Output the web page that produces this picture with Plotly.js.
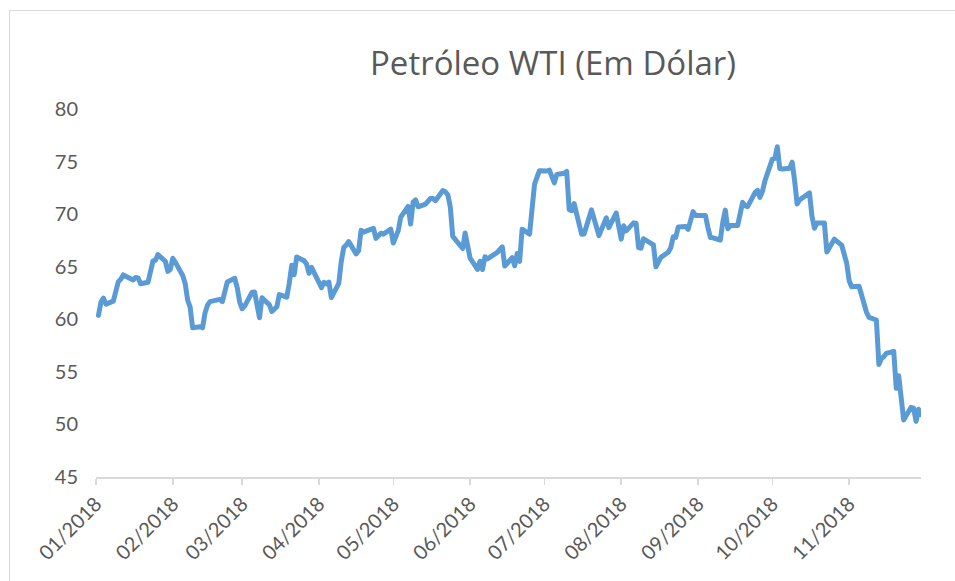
<!DOCTYPE html>
<html>
<head>
<meta charset="utf-8">
<script src="https://cdn.plot.ly/plotly-3.0.1.min.js"></script>
<style>
  html, body { margin: 0; padding: 0; background: #ffffff; overflow: hidden; }
  #chart { width: 955px; height: 581px; }
  #frame { position: absolute; left: 9px; top: 10px; width: 1000px; height: 1000px;
           border: 1.5px solid #d9d9d9; pointer-events: none; }
  .js-line { stroke-linejoin: round; stroke-linecap: round; }
</style>
</head>
<body>
<div id="chart"></div>
<div id="frame"></div>
<script>
const chartTitle = "Petróleo WTI (Em Dólar)";

const dates = [
  "2018-01-02","2018-01-03","2018-01-04","2018-01-05","2018-01-08","2018-01-09","2018-01-10","2018-01-11","2018-01-12",
  "2018-01-16","2018-01-17","2018-01-18","2018-01-19","2018-01-22","2018-01-23","2018-01-24","2018-01-25","2018-01-26",
  "2018-01-29","2018-01-30","2018-01-31",
  "2018-02-01","2018-02-02","2018-02-05","2018-02-06","2018-02-07","2018-02-08","2018-02-09","2018-02-12","2018-02-13",
  "2018-02-14","2018-02-15","2018-02-16","2018-02-20","2018-02-21","2018-02-22","2018-02-23","2018-02-26","2018-02-27","2018-02-28",
  "2018-03-01","2018-03-02","2018-03-05","2018-03-06","2018-03-07","2018-03-08","2018-03-09","2018-03-12","2018-03-13",
  "2018-03-14","2018-03-15","2018-03-16","2018-03-19","2018-03-20","2018-03-21","2018-03-22","2018-03-23","2018-03-26",
  "2018-03-27","2018-03-28","2018-03-29",
  "2018-04-02","2018-04-03","2018-04-04","2018-04-05","2018-04-06","2018-04-09","2018-04-10","2018-04-11","2018-04-12",
  "2018-04-13","2018-04-16","2018-04-17","2018-04-18","2018-04-19","2018-04-20","2018-04-23","2018-04-24","2018-04-25",
  "2018-04-26","2018-04-27","2018-04-30",
  "2018-05-01","2018-05-02","2018-05-03","2018-05-04","2018-05-07","2018-05-08","2018-05-09","2018-05-10","2018-05-11",
  "2018-05-14","2018-05-15","2018-05-16","2018-05-17","2018-05-18","2018-05-21","2018-05-22","2018-05-23","2018-05-24",
  "2018-05-25","2018-05-29","2018-05-30","2018-05-31",
  "2018-06-01","2018-06-04","2018-06-05","2018-06-06","2018-06-07","2018-06-08","2018-06-11","2018-06-12","2018-06-13",
  "2018-06-14","2018-06-15","2018-06-18","2018-06-19","2018-06-20","2018-06-21","2018-06-22","2018-06-25","2018-06-26",
  "2018-06-27","2018-06-28","2018-06-29",
  "2018-07-02","2018-07-03","2018-07-05","2018-07-06","2018-07-09","2018-07-10","2018-07-11","2018-07-12","2018-07-13",
  "2018-07-16","2018-07-17","2018-07-18","2018-07-19","2018-07-20","2018-07-23","2018-07-24","2018-07-25","2018-07-26",
  "2018-07-27","2018-07-30","2018-07-31",
  "2018-08-01","2018-08-02","2018-08-03","2018-08-06","2018-08-07","2018-08-08","2018-08-09","2018-08-10","2018-08-13",
  "2018-08-14","2018-08-15","2018-08-16","2018-08-17","2018-08-20","2018-08-21","2018-08-22","2018-08-23","2018-08-24",
  "2018-08-27","2018-08-28","2018-08-29","2018-08-30","2018-08-31",
  "2018-09-04","2018-09-05","2018-09-06","2018-09-07","2018-09-10","2018-09-11","2018-09-12","2018-09-13","2018-09-14",
  "2018-09-17","2018-09-18","2018-09-19","2018-09-20","2018-09-21","2018-09-24","2018-09-25","2018-09-26","2018-09-27","2018-09-28",
  "2018-10-01","2018-10-02","2018-10-03","2018-10-04","2018-10-05","2018-10-08","2018-10-09","2018-10-10","2018-10-11",
  "2018-10-12","2018-10-15","2018-10-16","2018-10-17","2018-10-18","2018-10-19","2018-10-22","2018-10-23","2018-10-24",
  "2018-10-25","2018-10-26","2018-10-29","2018-10-30","2018-10-31",
  "2018-11-01","2018-11-02","2018-11-05","2018-11-06","2018-11-07","2018-11-08","2018-11-09","2018-11-12","2018-11-13",
  "2018-11-14","2018-11-15","2018-11-16","2018-11-19","2018-11-20","2018-11-21","2018-11-23","2018-11-26","2018-11-27",
  "2018-11-28","2018-11-29","2018-11-30"
];

const prices = [
  60.37,61.63,62.01,61.44,61.73,62.92,63.57,63.80,64.22,
  63.73,63.97,63.94,63.38,63.52,64.49,65.56,65.61,66.15,
  65.50,64.56,64.73,
  65.80,65.44,64.16,63.40,61.81,61.15,59.20,59.29,59.19,
  60.60,61.34,61.68,61.90,61.68,62.76,63.55,63.90,63.01,61.64,
  61.00,61.25,62.57,62.59,61.16,60.15,62.05,61.37,60.74,
  61.01,61.20,62.35,62.10,63.41,65.13,64.24,65.93,65.56,
  65.25,64.38,64.94,
  63.01,63.51,63.37,63.54,62.06,63.42,65.51,66.82,67.07,
  67.39,66.22,66.52,68.47,68.29,68.38,68.64,67.70,68.05,
  68.19,68.10,68.57,
  67.25,67.93,68.43,69.72,70.73,69.06,71.14,71.36,70.70,
  70.96,71.31,71.49,71.49,71.28,72.24,72.13,71.84,70.71,
  67.88,66.73,68.21,67.04,
  65.81,64.75,65.52,64.73,65.95,65.74,66.11,66.36,66.64,
  66.89,65.06,65.87,65.09,66.25,65.51,68.57,68.10,70.55,
  72.83,73.51,74.13,
  74.10,74.19,72.97,73.78,73.88,74.06,70.43,70.33,71.00,
  68.09,68.11,68.83,69.51,70.41,67.96,68.48,69.26,69.65,
  68.72,70.11,68.81,
  67.62,68.89,68.41,69.17,69.14,66.81,66.76,67.66,67.19,
  67.07,65.00,65.43,65.89,66.38,66.82,67.84,67.79,68.78,
  68.83,68.55,69.56,70.24,69.87,
  69.87,68.72,67.77,67.75,67.54,69.25,70.38,68.61,68.91,
  68.93,69.85,71.12,70.80,70.71,72.05,72.27,71.59,72.17,73.16,
  75.23,75.30,76.41,74.34,74.29,74.36,74.94,73.16,70.96,
  71.35,71.82,72.02,69.77,68.66,69.16,69.16,66.40,66.79,
  67.38,67.62,67.04,66.14,65.33,
  63.67,63.10,63.14,62.21,61.67,60.67,60.19,59.93,55.69,
  56.25,56.46,56.76,56.95,53.43,54.63,50.42,51.63,51.56,
  50.29,51.45,50.93
];

const yTicks = [45, 50, 55, 60, 65, 70, 75, 80];

const fontFam = "Lato, 'Open Sans', sans-serif";
const titleFam = "'Open Sans', Lato, sans-serif";
const textColor = "#595959";

const trace = {
  x: dates,
  y: prices,
  type: "scatter",
  mode: "lines",
  line: { color: "#5B9BD5", width: 5 },
  hoverinfo: "x+y"
};

const layout = {
  width: 955,
  height: 581,
  margin: { l: 96, r: 34, t: 109, b: 104 },
  paper_bgcolor: "#ffffff",
  plot_bgcolor: "#ffffff",
  showlegend: false,
  title: {
    text: chartTitle,
    font: { family: titleFam, size: 33, color: textColor },
    xref: "paper", x: 0.554, xanchor: "center",
    yref: "container", y: 0.891, yanchor: "middle"
  },
  xaxis: {
    type: "date",
    range: ["2018-01-01", "2018-11-30"],
    tick0: "2018-01-01",
    dtick: "M1",
    tickformat: "%m/%Y",
    tickangle: -45,
    ticks: "outside",
    ticklen: 6,
    tickwidth: 1.5,
    tickcolor: "#d9d9d9",
    showline: true,
    linecolor: "#d9d9d9",
    linewidth: 1.5,
    showgrid: false,
    zeroline: false,
    tickfont: { family: fontFam, size: 20, color: textColor }
  },
  yaxis: {
    range: [45, 80],
    tickvals: yTicks,
    ticktext: yTicks.map(String),
    showline: false,
    showgrid: false,
    zeroline: false,
    ticks: "",
    ticklabelstandoff: 17,
    tickfont: { family: fontFam, size: 20, color: textColor }
  }
};

Plotly.newPlot("chart", [trace], layout, { displayModeBar: false, staticPlot: true });
</script>
</body>
</html>
